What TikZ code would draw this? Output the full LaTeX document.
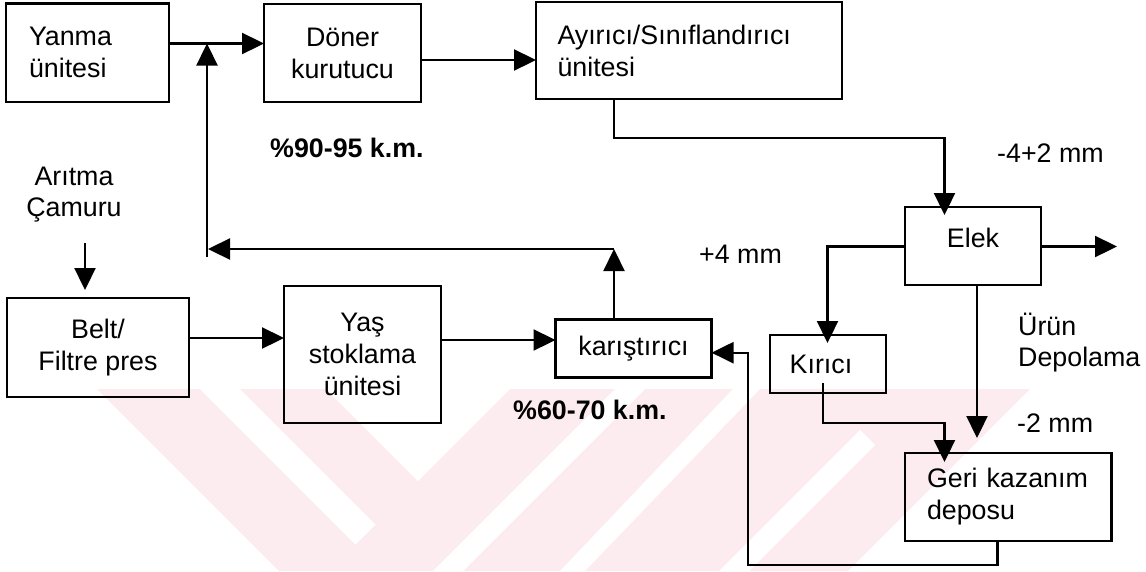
\documentclass[tikz,border=0pt]{standalone}
\usepackage{fontspec}
\setmainfont{Liberation Sans}
\usetikzlibrary{arrows.meta}
\newcommand\myfs{\fontsize{26.8}{32}\selectfont}
\definecolor{wm}{RGB}{253,236,239}
\begin{document}
\begin{tikzpicture}[x=1pt,y=-1pt,
  every node/.style={font=\myfs},
  box/.style={draw, line width=2.5pt, inner sep=0pt, outer sep=0pt},
  arr/.style={line width=2.3pt, -{Triangle[length=22pt,width=21pt]}},
  lbl/.style={inner sep=0pt, anchor=base west},
  ctr/.style={inner sep=0pt, anchor=base}]
\useasboundingbox (0,0) rectangle (1146,571);
% watermark
\fill[wm] (97,389) -- (1030,389) -- (848,571) -- (279,571) -- cycle;
\fill[white] (326,389) -- (510,389) -- (418,481) -- cycle;
\fill[white] (200,389) -- (240,389) -- (375.5,524.5) -- (355.5,544.5) -- cycle;
\fill[white] (615,389) -- (645,389) -- (463,571) -- (433,571) -- cycle;
\fill[white] (733,389) -- (760,389) -- (585,571) -- (560,571) -- cycle;
\fill[white] (719,571) -- (749,571) -- (875,445) -- (860,430) -- cycle;
% boxes
\node[box, minimum height=98.5pt, text width=117pt, inner xsep=23pt, align=left] (yanma) at (87.5,52.5) {Yanma\\ünitesi};
\node[box, minimum width=157pt, minimum height=98pt, align=center] (doner) at (342.5,53) {Döner\\kurutucu};
\node[box, minimum height=97pt, text width=263pt, inner xsep=21.5pt, align=left] (ayirici) at (689,50.5) {Ayırıcı/Sınıflandırıcı\\ünitesi};
\node[box, minimum width=182pt, minimum height=99pt, align=center] (belt) at (98,347.5) {Belt/\\Filtre pres};
\node[box, minimum width=157pt, minimum height=137pt, align=center] (yas) at (362.5,354.5) {Yaş\\stoklama\\ünitesi};
\node[box, minimum width=156pt, minimum height=58pt] (karis) at (633.5,348.6) {karıştırıcı};
\node[box, minimum width=136pt, minimum height=78pt] (elek) at (973,246) {\raisebox{16pt}{Elek}};
\node[box, minimum width=116pt, minimum height=58pt] (kirici) at (828,364) {\hspace*{-14pt}Kırıcı};
\node[box, minimum height=88pt, text width=162.5pt, inner xsep=22pt, align=left] (geri) at (1008.25,497) {Geri kazanım\\deposu};
% labels
\node[lbl, font=\myfs\bfseries] (km1) at (270,157) {\%90-95 k.m.};
\node[lbl, font=\myfs\bfseries] (km2) at (513,419) {\%60-70 k.m.};
\node[lbl] (m42) at (997,162) {-4+2 mm};
\node[lbl] (p4) at (699,263) {+4 mm};
\node[lbl] (urun1) at (1018,335) {Ürün};
\node[lbl] (urun2) at (1018,366) {Depolama};
\node[lbl] (m2) at (1017,432) {-2 mm};
\node[ctr] (ar) at (74,185) {Arıtma};
\node[ctr] (cam) at (74,216) {Çamuru};
% coordinates
\coordinate (j1) at (207,43.5);
\coordinate (fbL) at (207,257);
\coordinate (k1) at (614,249);
\coordinate (k2) at (208,249);
\coordinate (r60) at (0,60);
\coordinate (a1) at (614,137.7);
\coordinate (a2) at (944.5,137.7);
\coordinate (eout) at (1117,246.5);
\coordinate (e1) at (827.5,246.5);
\coordinate (g1) at (977,438);
\coordinate (q1) at (823,423);
\coordinate (q2) at (944.5,423);
\coordinate (l1) at (997.6,565);
\coordinate (l2) at (748,565);
\coordinate (l3) at (748,352.7);
\coordinate (rb) at (0,338);
\coordinate (ry) at (0,340);
\coordinate (ar1) at (85,243);
\coordinate (ar2) at (85,290);
% connectors
\draw[arr] (yanma.east |- j1) -- (doner.west |- j1);
\draw[arr] (fbL) -- (j1);
\draw[arr] (doner.east |- r60) -- (ayirici.west |- r60);
\draw[arr, shorten >=-8pt] (ayirici.south -| a1) -- (a1) -- (a2) -- (elek.north -| a2);
\draw[arr] (elek.east |- eout) -- (eout);
\draw[arr, shorten >=-8pt] (elek.west |- e1) -- (e1) -- (kirici.north -| e1);
\draw[arr] (elek.south -| g1) -- (g1);
\draw[arr, shorten <=-10pt, shorten >=-9pt] (kirici.south -| q1) -- (q1) -- (q2) -- (geri.north -| q2);
\draw[arr] (geri.south -| l1) -- (l1) -- (l2) -- (l3) -- (karis.east |- l3);
\draw[arr] (belt.east |- rb) -- (yas.west |- rb);
\draw[arr] (yas.east |- ry) -- (karis.west |- ry);
\draw[arr] (karis.north -| k1) -- (k1);
\draw[arr] (k1) -- (k2);
\draw[arr] (ar1) -- (ar2);
\end{tikzpicture}
\end{document}
